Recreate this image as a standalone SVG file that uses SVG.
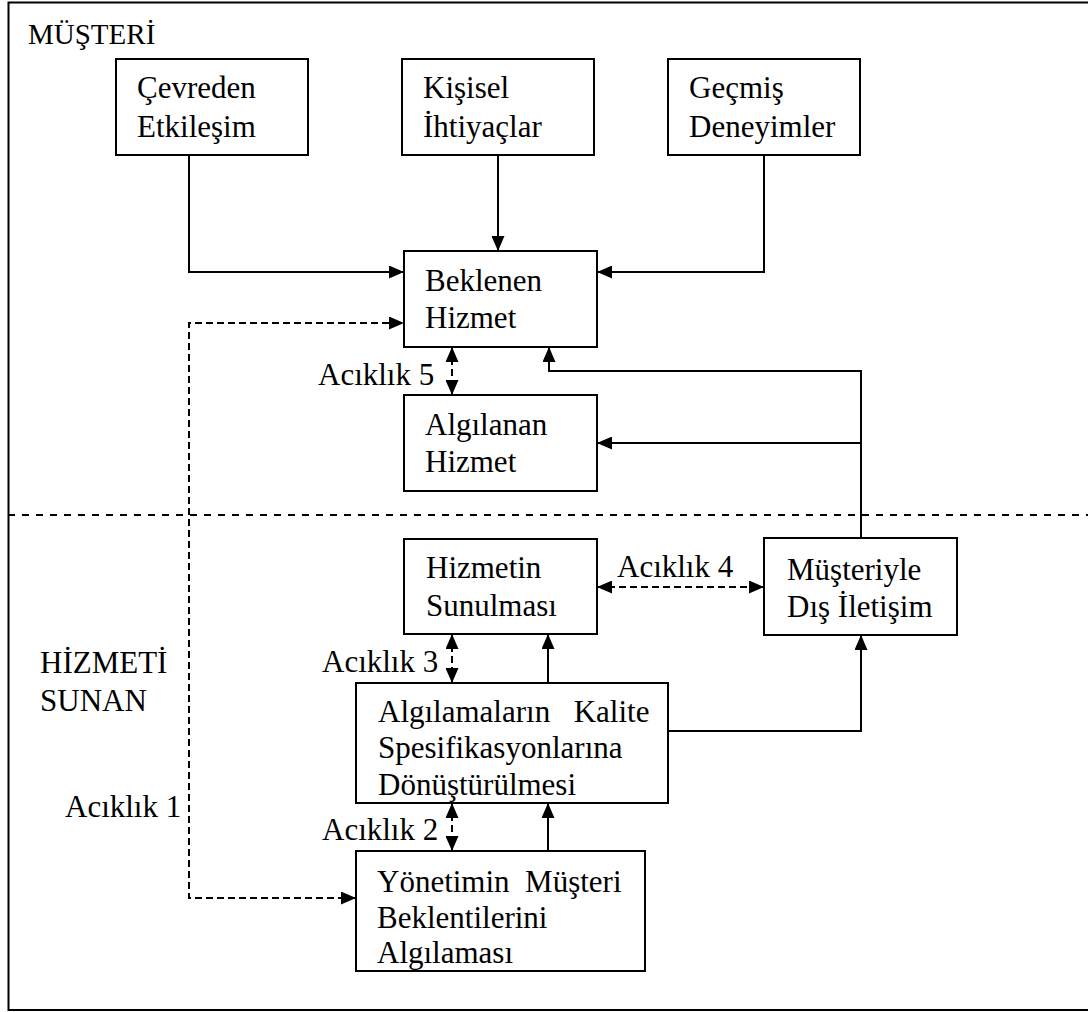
<svg xmlns="http://www.w3.org/2000/svg" width="1088" height="1012" viewBox="0 0 1088 1012">
<style>
text{font-family:"Liberation Serif","Times New Roman",serif;font-size:31px;fill:#000}
.box{fill:#fff;stroke:#000;stroke-width:2}
.ln{fill:none;stroke:#000;stroke-width:2}
.dl{fill:none;stroke:#000;stroke-width:2;stroke-dasharray:7 4}
</style>
<defs>
<marker id="ah" viewBox="0 0 15 13" refX="15" refY="6.5" markerWidth="15" markerHeight="13" markerUnits="userSpaceOnUse" orient="auto-start-reverse">
<path d="M0,0 L15,6.5 L0,13 z" fill="#000"/>
</marker>
</defs>
<rect width="1088" height="1012" fill="#fff"/>
<g id="frame">
<path d="M1090,2.5 H8.5 V1010 H1090" class="ln" stroke-width="2.5"/>
<line x1="8" y1="515" x2="1088" y2="515" stroke="#000" stroke-width="2" stroke-dasharray="7 7"/>
<text x="28" y="44" style="font-size:29px">MÜŞTERİ</text>
<text x="40" y="673">HİZMETİ</text>
<text x="40" y="711">SUNAN</text>
</g>
<g id="connectors">
<path class="ln" d="M189,155 V272 H404" marker-end="url(#ah)"/>
<path class="ln" d="M498,155 V251" marker-end="url(#ah)"/>
<path class="ln" d="M764,155 V272 H597" marker-end="url(#ah)"/>
<path class="dl" d="M356,898 H189 V323 H404" marker-start="url(#ah)" marker-end="url(#ah)"/>
<path class="dl" d="M452,347 V395" marker-start="url(#ah)" marker-end="url(#ah)"/>
<path class="ln" d="M861,538 V371 H549 V347" marker-end="url(#ah)"/>
<path class="ln" d="M861,443 H597" marker-end="url(#ah)"/>
<path class="dl" d="M597,587 H764" marker-start="url(#ah)" marker-end="url(#ah)"/>
<path class="dl" d="M452,634 V683" marker-start="url(#ah)" marker-end="url(#ah)"/>
<path class="ln" d="M548,683 V634" marker-end="url(#ah)"/>
<path class="dl" d="M452,803 V851" marker-start="url(#ah)" marker-end="url(#ah)"/>
<path class="ln" d="M548,851 V803" marker-end="url(#ah)"/>
<path class="ln" d="M668,731 H861 V635" marker-end="url(#ah)"/>
<text x="318" y="385">Acıklık 5</text>
<text x="617" y="577">Acıklık 4</text>
<text x="322" y="672">Acıklık 3</text>
<text x="322" y="840">Acıklık 2</text>
<text x="65" y="817">Acıklık 1</text>
</g>
<g id="cevreden">
<rect class="box" x="116" y="59" width="192" height="96"/>
<text x="137" y="98">Çevreden</text>
<text x="137" y="137">Etkileşim</text>
</g>
<g id="kisisel">
<rect class="box" x="402" y="59" width="192" height="96"/>
<text x="423" y="98">Kişisel</text>
<text x="423" y="137">İhtiyaçlar</text>
</g>
<g id="gecmis">
<rect class="box" x="668" y="59" width="192" height="96"/>
<text x="689" y="98">Geçmiş</text>
<text x="689" y="137">Deneyimler</text>
</g>
<g id="beklenen">
<rect class="box" x="404" y="251" width="193" height="96"/>
<text x="425" y="291">Beklenen</text>
<text x="425" y="328">Hizmet</text>
</g>
<g id="algilanan">
<rect class="box" x="404" y="395" width="193" height="96"/>
<text x="425" y="435">Algılanan</text>
<text x="425" y="472">Hizmet</text>
</g>
<g id="hizmetin">
<rect class="box" x="404" y="539" width="193" height="95"/>
<text x="426" y="578">Hizmetin</text>
<text x="426" y="616">Sunulması</text>
</g>
<g id="musteriyle">
<rect class="box" x="764" y="538" width="193" height="97"/>
<text x="787" y="580">Müşteriyle</text>
<text x="787" y="617">Dış İletişim</text>
</g>
<g id="algilamalarin">
<rect class="box" x="356" y="683" width="312" height="120"/>
<text x="378" y="722" style="white-space:pre;word-spacing:4px">Algılamaların  Kalite</text>
<text x="378" y="758">Spesifikasyonlarına</text>
<text x="378" y="795">Dönüştürülmesi</text>
</g>
<g id="yonetimin">
<rect class="box" x="356" y="851" width="289" height="120"/>
<text x="377" y="892" style="white-space:pre">Yönetimin  Müşteri</text>
<text x="377" y="928">Beklentilerini</text>
<text x="377" y="963">Algılaması</text>
</g>
</svg>
